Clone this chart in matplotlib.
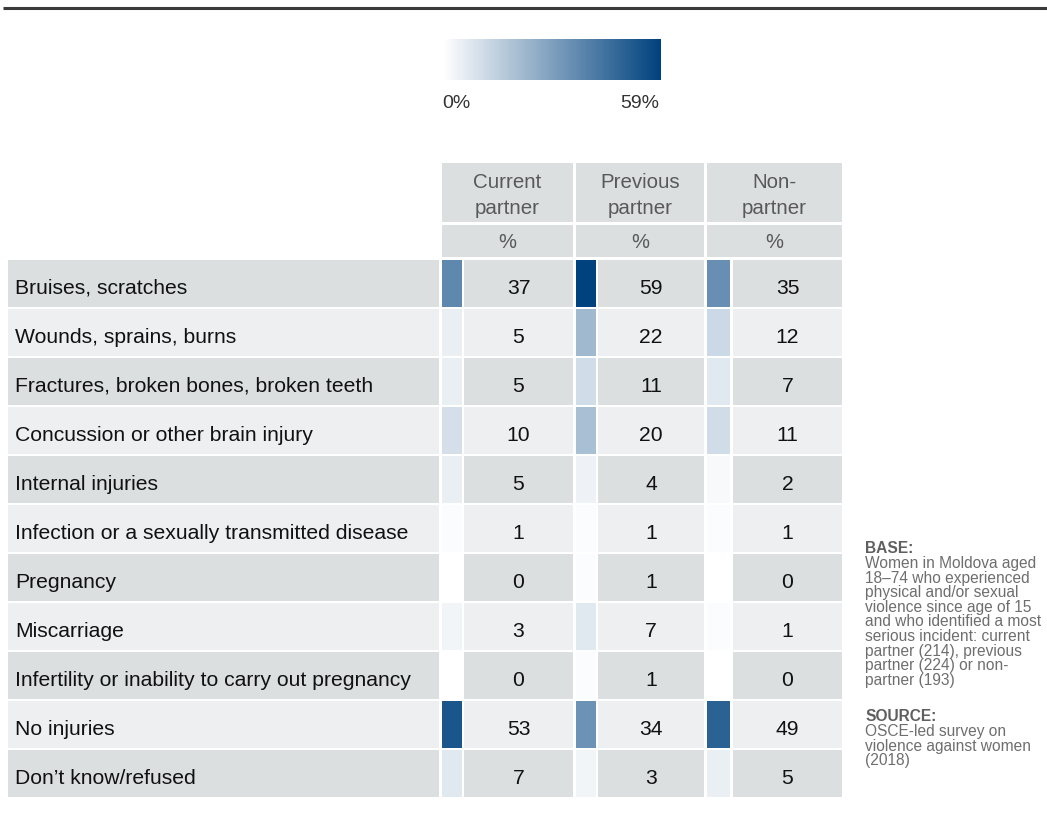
import matplotlib
matplotlib.use("Agg")
import matplotlib.pyplot as plt
import numpy as np
from matplotlib.patches import Rectangle
from matplotlib.colors import LinearSegmentedColormap, Normalize

plt.rcParams['font.family'] = ['Liberation Sans', 'DejaVu Sans']

categories = [
    "Bruises, scratches",
    "Wounds, sprains, burns",
    "Fractures, broken bones, broken teeth",
    "Concussion or other brain injury",
    "Internal injuries",
    "Infection or a sexually transmitted disease",
    "Pregnancy",
    "Miscarriage",
    "Infertility or inability to carry out pregnancy",
    "No injuries",
    "Don\u2019t know/refused",
]
current_partner = [37, 5, 5, 10, 5, 1, 0, 3, 0, 53, 7]
previous_partner = [59, 22, 11, 20, 4, 1, 1, 7, 1, 34, 3]
non_partner = [35, 12, 7, 11, 2, 1, 0, 1, 0, 49, 5]
columns = [("Current", "partner"), ("Previous", "partner"), ("Non-", "partner")]
series = [current_partner, previous_partner, non_partner]
vmin, vmax = 0, 59

W, H = 1047, 821
fig = plt.figure(figsize=(W / 100, H / 100), dpi=100)
ax = fig.add_axes([0, 0, 1, 1])
ax.set_xlim(0, W)
ax.set_ylim(H, 0)
ax.axis('off')

cmap = LinearSegmentedColormap.from_list("blues", ["#ffffff", "#00427e"])
norm = Normalize(vmin, vmax)

dark_bg = "#dcdfe0"
light_bg = "#eeeff0"
hdr_color = "#595959"
FS = 15.2

# top rule
ax.plot([3, W], [8.5, 8.5], color="#3a3a3a", lw=2.2, solid_capstyle='butt')

# colour legend
grad = np.linspace(0, 1, 256).reshape(1, -1)
ax.imshow(grad, cmap=cmap, extent=[443, 661, 80, 39], aspect='auto', interpolation='bilinear')
ax.text(456, 102, "0%", ha='center', va='center_baseline', fontsize=14, color="#333333")
ax.text(640, 102, "59%", ha='center', va='center_baseline', fontsize=14, color="#333333")

# column geometry
groups = [(442, 462, 464, 573), (576, 596, 598, 704), (707, 730, 733, 842)]

# header
for (sx0, sx1, vx0, vx1), (l1, l2) in zip(groups, columns):
    ax.add_patch(Rectangle((sx0, 163), vx1 - sx0, 59, color=dark_bg, lw=0))
    ax.add_patch(Rectangle((sx0, 225), vx1 - sx0, 32, color=dark_bg, lw=0))
    cx = (sx0 + vx1) / 2
    ax.text(cx, 181, l1, ha='center', va='center_baseline', fontsize=14.8, color=hdr_color)
    ax.text(cx, 207, l2, ha='center', va='center_baseline', fontsize=14.8, color=hdr_color)
    ax.text(cx, 241, "%", ha='center', va='center_baseline', fontsize=14.5, color=hdr_color)

# rows
row_top0, pitch, row_h = 260, 49, 47
for i, cat in enumerate(categories):
    y0 = row_top0 + i * pitch
    yc = y0 + row_h / 2 + 3
    bg = dark_bg if i % 2 == 0 else light_bg
    ax.add_patch(Rectangle((8, y0), 431, row_h, color=bg, lw=0))
    ax.text(15, yc, cat, ha='left', va='center_baseline', fontsize=FS, color="#111111")
    for (sx0, sx1, vx0, vx1), vals in zip(groups, series):
        v = vals[i]
        ax.add_patch(Rectangle((sx0, y0), sx1 - sx0, row_h, color=cmap(norm(v)), lw=0))
        ax.add_patch(Rectangle((vx0, y0), vx1 - vx0, row_h, color=bg, lw=0))
        ax.text((vx0 + vx1) / 2, yc, str(v), ha='center', va='center_baseline', fontsize=FS,
                color="#111111")

# notes
note_col = "#6e6e6e"
NFS = 11.2
ax.text(865, 547, "BASE:", ha='left', va='center_baseline', fontsize=NFS, fontweight='bold', color="#5f5f5f")
base_lines = ["Women in Moldova aged", "18\u201374 who experienced", "physical and/or sexual",
              "violence since age of 15", "and who identified a most",
              "serious incident: current", "partner (214), previous",
              "partner (224) or non-", "partner (193)"]
for k, line in enumerate(base_lines):
    ax.text(865, 562 + k * 14.6, line, ha='left', va='center_baseline', fontsize=NFS, color=note_col)
ax.text(865, 715, "SOURCE:", ha='left', va='center_baseline', fontsize=NFS, fontweight='bold', color="#5f5f5f")
src_lines = ["OSCE-led survey on", "violence against women", "(2018)"]
for k, line in enumerate(src_lines):
    ax.text(865, 730 + k * 14.6, line, ha='left', va='center_baseline', fontsize=NFS, color=note_col)

fig.savefig("out.png", dpi=100)
